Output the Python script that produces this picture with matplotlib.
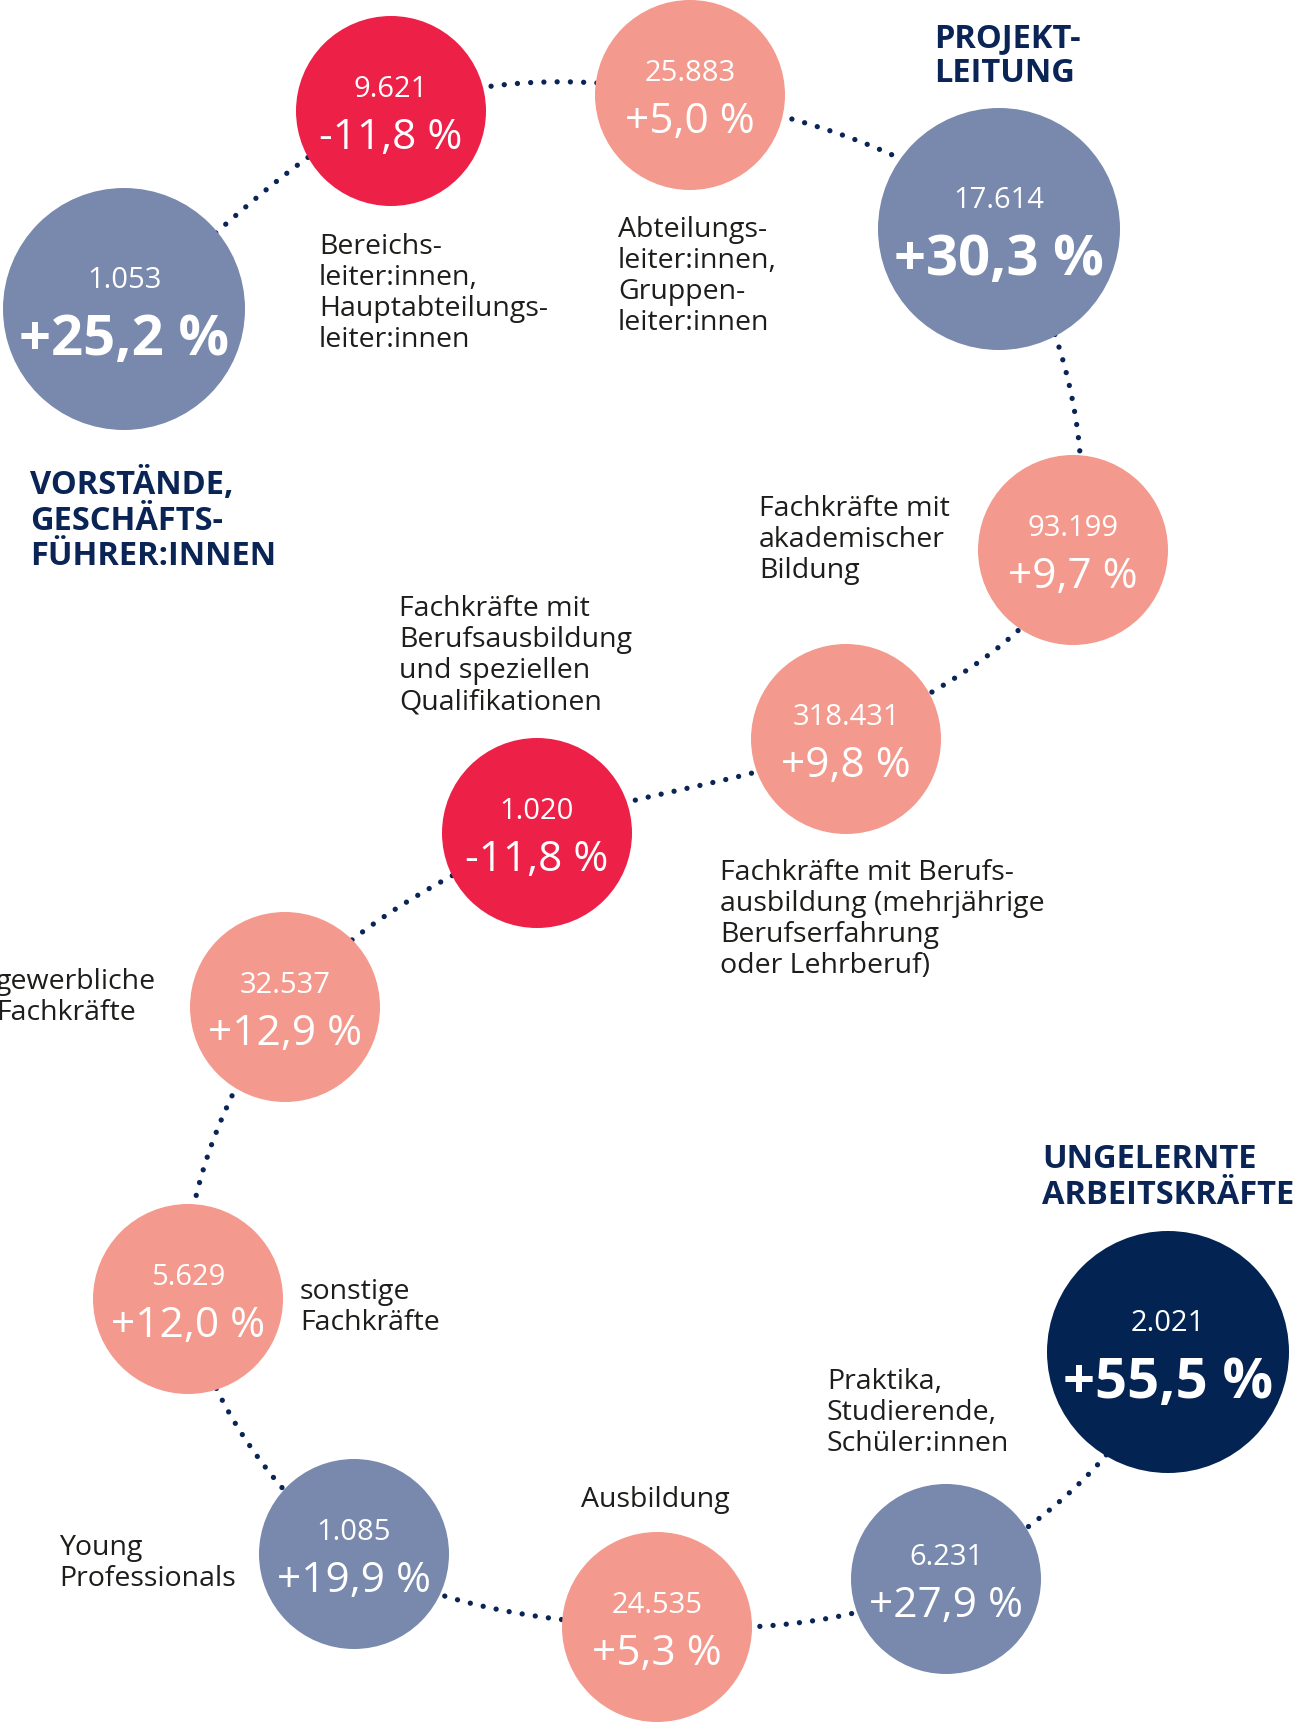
import numpy as np
import matplotlib.pyplot as plt
from matplotlib.patches import Circle

plt.rcParams['font.family'] = ['Open Sans', 'DejaVu Sans']

# data
counts = ['1.053', '9.621', '25.883', '17.614', '93.199', '318.431', '1.020',
          '32.537', '5.629', '1.085', '24.535', '6.231', '2.021']
changes = ['+25,2 %', '-11,8 %', '+5,0 %', '+30,3 %', '+9,7 %', '+9,8 %', '-11,8 %',
           '+12,9 %', '+12,0 %', '+19,9 %', '+5,3 %', '+27,9 %', '+55,5 %']
groups = ['VORSTÄNDE,\nGESCHÄFTS-\nFÜHRER:INNEN',
          'Bereichs-\nleiter:innen,\nHauptabteilungs-\nleiter:innen',
          'Abteilungs-\nleiter:innen,\nGruppen-\nleiter:innen',
          'PROJEKT-\nLEITUNG',
          'Fachkräfte mit\nakademischer\nBildung',
          'Fachkräfte mit Berufs-\nausbildung (mehrjährige\nBerufserfahrung\noder Lehrberuf)',
          'Fachkräfte mit\nBerufsausbildung\nund speziellen\nQualifikationen',
          'gewerbliche\nFachkräfte',
          'sonstige\nFachkräfte',
          'Young\nProfessionals',
          'Ausbildung',
          'Praktika,\nStudierende,\nSchüler:innen',
          'UNGELERNTE\nARBEITSKRÄFTE']
kind = ['top', 'neg', 'pos', 'top', 'pos', 'pos', 'neg', 'pos', 'pos', 'mid', 'pos', 'mid', 'max']

# layout (pixels)
cx = [124, 391, 690, 999, 1073, 846, 537, 285, 188, 354, 657, 946, 1168]
cy = [309, 111, 95, 229, 550, 739, 833, 1007, 1299, 1554, 1627, 1579, 1352]
lx = [30, 319, 618, 934, 759, 720, 399, -4, 300, 59, 581, 827, 1042]
ly = [468, 233, 216, 22, 495, 859, 595, 968, 1278, 1534, 1486, 1368, 1143]

colors = {'top': '#7889ad', 'mid': '#7889ad', 'neg': '#ed2048', 'pos': '#f4998d', 'max': '#032452'}
navy = '#0a2456'
big = ['top', 'max']

fig = plt.figure(figsize=(13.06, 17.25), dpi=100)
ax = fig.add_axes([0, 0, 1, 1])
ax.set_xlim(0, 1306)
ax.set_ylim(1725, 0)
ax.axis('off')

# dotted path (catmull-rom through the centres)
P = np.array(list(zip(cx, cy)), dtype=float)
start = 2 * P[0] - P[1]
end = P[-1] + np.array([0, -400])
P = np.vstack([start, P, end])
xs, ys = [], []
t = np.linspace(0, 1, 60)
for i in range(1, len(P) - 2):
    p0, p1, p2, p3 = P[i - 1], P[i], P[i + 1], P[i + 2]
    for tt in t:
        pt = 0.5 * ((2 * p1) + (-p0 + p2) * tt + (2 * p0 - 5 * p1 + 4 * p2 - p3) * tt ** 2
                    + (-p0 + 3 * p1 - 3 * p2 + p3) * tt ** 3)
        xs.append(pt[0])
        ys.append(pt[1])
ax.plot(xs, ys, color=navy, lw=3.8, linestyle=(0, (0.01, 2.5)), dash_capstyle='round', zorder=1)

for i in range(len(counts)):
    r = 121 if kind[i] in big else 95
    ax.add_patch(Circle((cx[i], cy[i]), r, color=colors[kind[i]], lw=0, zorder=2))
    if kind[i] in big:
        ax.text(cx[i], cy[i] - 21, counts[i], color='white', fontsize=21, ha='center', va='baseline', zorder=3)
        ax.text(cx[i], cy[i] + 46, changes[i], color='white', fontsize=40.5, fontweight='bold',
                ha='center', va='baseline', zorder=3)
    else:
        ax.text(cx[i], cy[i] - 14, counts[i], color='white', fontsize=21, ha='center', va='baseline', zorder=3)
        ax.text(cx[i], cy[i] + 38, changes[i], color='white', fontsize=30.5,
                ha='center', va='baseline', zorder=3)
    if kind[i] in big:
        ax.text(lx[i], ly[i], groups[i], color=navy, fontsize=23.5, fontweight='bold',
                ha='left', va='top', linespacing=1.1, zorder=3)
    else:
        ax.text(lx[i], ly[i], groups[i], color='#1d1d1b', fontsize=20.5,
                ha='left', va='top', linespacing=1.15, zorder=3)

fig.savefig('out.png', dpi=100)
